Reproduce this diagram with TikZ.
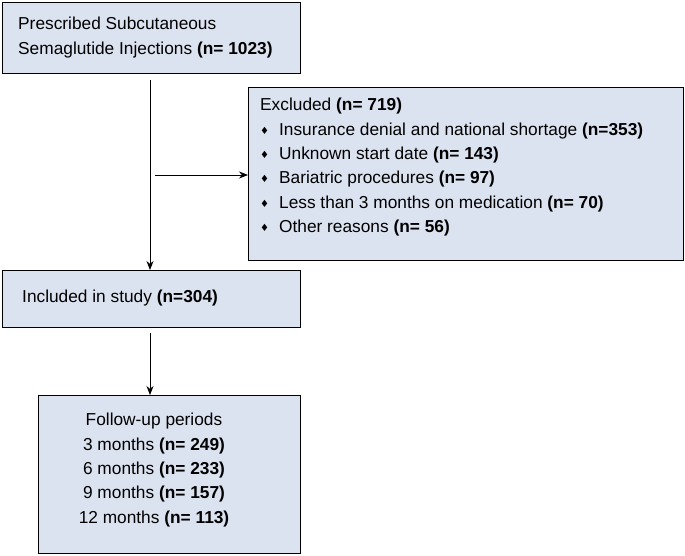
\documentclass[tikz,border=0pt]{standalone}
\usepackage{fontspec}
\setmainfont{Liberation Sans}
\newfontfamily\dejavu{DejaVu Sans}
\usetikzlibrary{arrows.meta}
\definecolor{boxfill}{HTML}{DCE3F0}
\newcommand{\dia}{{\dejavu\fontsize{10}{10}\selectfont\raisebox{1pt}{♦}}\hspace{10pt}}
\begin{document}
\begin{tikzpicture}[x=1pt,y=-1pt,
  bx/.style={draw=black,fill=boxfill,line width=0.8pt},
  txt/.style={font=\fontsize{17.3}{24.4}\selectfont,inner sep=0pt},
  arr/.style={-{Stealth[length=9pt,width=7pt]},line width=0.8pt}]
\useasboundingbox (0,0) rectangle (685,555);
\draw[bx] (2,2) rectangle (300,73);
\node[txt,align=left,anchor=west] (t1) at (18,37.5) {Prescribed Subcutaneous\\Semaglutide Injections \textbf{(n= 1023)}};
\draw[bx] (248,87) rectangle (683,260);
\node[txt,align=left,anchor=north west] (t2) at (260,98) {Excluded \textbf{(n= 719)}\\
\dia Insurance denial and national shortage \textbf{(n=353)}\\
\dia Unknown start date \textbf{(n= 143)}\\
\dia Bariatric procedures \textbf{(n= 97)}\\
\dia Less than 3 months on medication \textbf{(n= 70)}\\
\dia Other reasons \textbf{(n= 56)}};
\draw[bx] (2,270) rectangle (300,327);
\node[txt,anchor=west] (t3) at (22,298.5) {Included in study \textbf{(n=304)}};
\draw[bx] (38,395) rectangle (300,553);
\node[txt,align=center] (t4) at (154,470) {Follow-up periods\\3 months \textbf{(n= 249)}\\6 months \textbf{(n= 233)}\\9 months \textbf{(n= 157)}\\12 months \textbf{(n= 113)}};
\coordinate (a1) at (150,80);
\coordinate (a2) at (150,270);
\coordinate (h1) at (155,175);
\coordinate (h2) at (248,175);
\coordinate (b1) at (150,333);
\coordinate (b2) at (150,395);
\draw[arr] (a1) -- (a2);
\draw[arr] (h1) -- (h2);
\draw[arr] (b1) -- (b2);
\end{tikzpicture}
\end{document}
